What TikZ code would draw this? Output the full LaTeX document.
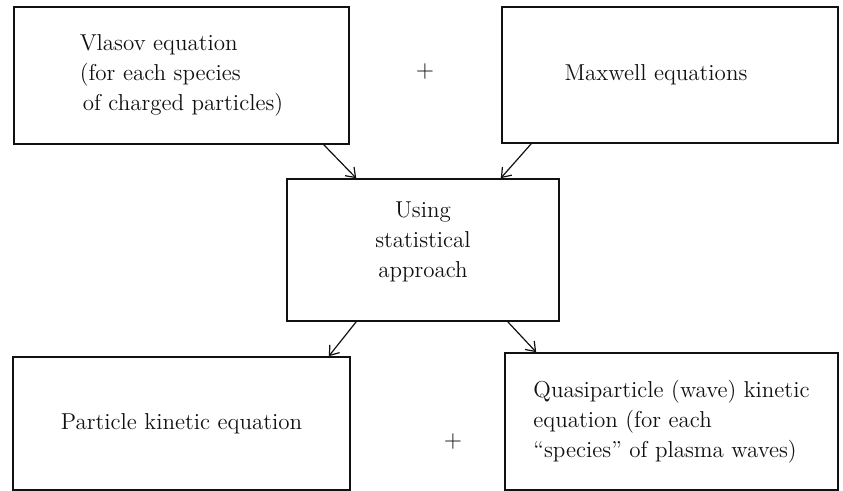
\documentclass[tikz,border=0pt]{standalone}
\usetikzlibrary{arrows.meta,calc}
\definecolor{ink}{HTML}{111111}
\tikzset{eqbox/.style={draw=ink, line width=0.8pt, inner sep=0pt, text=ink, align=#1},
  eqbox/.default=center,
  flow/.style={->, ink, line width=0.6pt}}
\begin{document}
\begin{tikzpicture}[x=0.5pt, y=-0.5pt, font=\fontsize{11.5}{15}\selectfont, >={Straight Barb[length=1.5mm,width=2.2mm]}]
\useasboundingbox[fill=white] (0,0) rectangle (843,491);
% top row
\node[eqbox=left, minimum width=167.5pt, minimum height=68.5pt] (vlasov) at (181.5,75.5)
  {Vlasov equation\\(for each species\\\hspace{1.5pt}of charged particles)};
\node[eqbox, minimum width=168pt, minimum height=68pt] (maxwell) at (670,75)
  {\hspace{-14pt}Maxwell equations};
\node[text=ink] (plustop) at (425,72) {$+$};
% middle
\node[eqbox, minimum width=136pt, minimum height=71pt] (stat) at (423,250)
  {Using\\statistical\\approach\rule[-10pt]{0pt}{0pt}};
% bottom row
\node[eqbox, minimum width=168.5pt, minimum height=66.5pt] (particle) at (181.5,423.5)
  {Particle kinetic equation};
\node[eqbox=left, minimum width=166.5pt, minimum height=68.5pt] (quasi) at (671.5,421.5)
  {Quasiparticle (wave) kinetic\\equation (for each\\``species'' of plasma waves)};
\node[text=ink] (plusbot) at (453,442) {$+$};
% connectors
\draw[flow] ($(vlasov.south east)+(-26,0)$) -- ($(stat.north west)+(70,0)$);
\draw[flow] ($(maxwell.south west)+(30,0)$) -- ($(stat.north east)+(-59,0)$);
\draw[flow] ($(stat.south west)+(70,0)$) -- ($(particle.north east)+(-22,0)$);
\draw[flow] ($(stat.south east)+(-52,0)$) -- ($(quasi.north west)+(32,0)$);
\end{tikzpicture}
\end{document}
